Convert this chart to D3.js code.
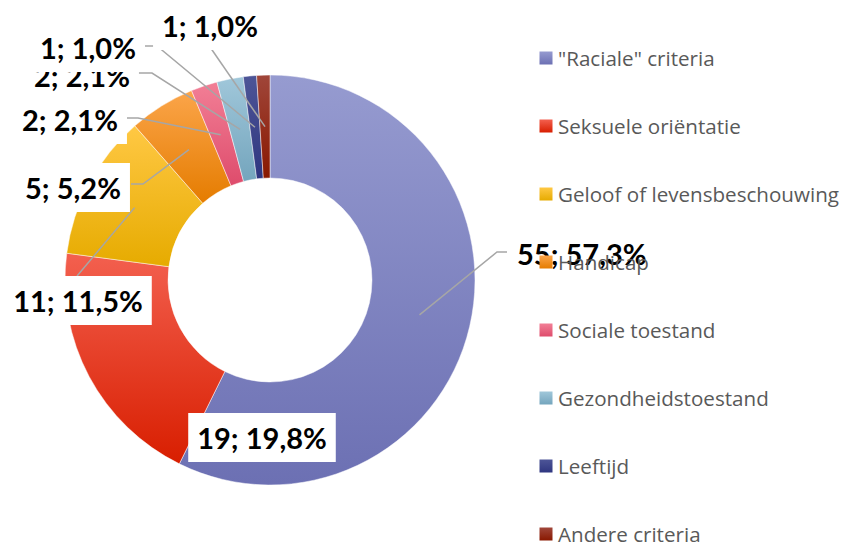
<!DOCTYPE html>
<html>
<head>
<meta charset="utf-8">
<script src="https://cdn.jsdelivr.net/npm/d3@7"></script>
<style>
  html, body { margin: 0; padding: 0; background: #fff; }
  svg { display: block; }
</style>
</head>
<body>
<svg id="chart" width="848" height="548"></svg>
<script>
// Discrimination criteria: counts per category
const categories = ['"Raciale" criteria', "Seksuele oriëntatie", "Geloof of levensbeschouwing",
  "Handicap", "Sociale toestand", "Gezondheidstoestand", "Leeftijd", "Andere criteria"];
const counts = [55, 19, 11, 5, 2, 2, 1, 1];

// Gradient colours per slice (top, bottom)
const colorsTop = ["#969bd0", "#f3604f", "#ffc844", "#fba54a", "#f27f96", "#a0c7da", "#4d5597", "#a0463a"];
const colorsBottom = ["#6c70b3", "#d81e00", "#e6ab00", "#e57c00", "#de4c6c", "#74a5bd", "#2f3680", "#891800"];

// Label placement: text centre and leader-line bend points (null = no leader)
const labelLayout = [
  { x: 581, y: 253, leader: [[497, 252], [507, 252]], anchor: "start", tx: 517 },
  { x: 262, y: 437, leader: null },
  { x: 78,  y: 300, leader: [[77, 276]] },
  { x: 73,  y: 187, leader: [[143, 184], [131, 184]] },
  { x: 70,  y: 119, leader: [[138, 118], [127, 118]] },
  { x: 82,  y: 75,  leader: [[152, 73], [138, 73]] },
  { x: 88,  y: 47,  leader: [[157, 46], [145, 46]] },
  { x: 210, y: 25,  leader: [[210, 47]] }
];

const svg = d3.select("#chart");
const cx = 270, cy = 280, rOuter = 205, rInner = 102;
const total = d3.sum(counts);

const data = categories.map((c, i) => ({ name: c, value: counts[i], i }));

// vertical gradients, lighter at the top of each slice
const defs = svg.append("defs");
data.forEach(d => {
  const g = defs.append("linearGradient")
    .attr("id", "grad" + d.i)
    .attr("x1", 0).attr("y1", 0).attr("x2", 0).attr("y2", 1);
  g.append("stop").attr("offset", "0%").attr("stop-color", colorsTop[d.i]);
  g.append("stop").attr("offset", "100%").attr("stop-color", colorsBottom[d.i]);
});

const pie = d3.pie().value(d => d.value).sort(null);
const arc = d3.arc().innerRadius(rInner).outerRadius(rOuter);
const arcs = pie(data);

const g = svg.append("g").attr("transform", `translate(${cx},${cy})`);
g.selectAll("path.slice")
  .data(arcs)
  .join("path")
  .attr("class", "slice")
  .attr("d", arc)
  .attr("fill", d => `url(#grad${d.data.i})`)
  .attr("stroke", "#ffffff")
  .attr("stroke-opacity", 0.6)
  .attr("stroke-width", 0.8);

// leader lines from slice centroids to the labels
const fmt = v => (v / total * 100).toFixed(1).replace(".", ",");
const labelFont = "Lato, 'Open Sans', sans-serif";

arcs.forEach((a, k) => {
  const lay = labelLayout[k];
  if (!lay.leader) return;
  const c = arc.centroid(a);
  const pts = [[cx + c[0], cy + c[1]], ...lay.leader];
  svg.append("path")
    .attr("d", d3.line()(pts))
    .attr("fill", "none")
    .attr("stroke", "#a6a6a6")
    .attr("stroke-width", 1.5);
});

// value labels on white boxes
arcs.forEach((a, k) => {
  const lay = labelLayout[k];
  const lg = svg.append("g");
  const rect = lg.append("rect").attr("fill", "#ffffff");
  const t = lg.append("text")
    .attr("x", lay.anchor === "start" ? lay.tx : lay.x)
    .attr("y", lay.y)
    .attr("text-anchor", lay.anchor || "middle")
    .attr("dominant-baseline", "central")
    .attr("font-family", labelFont)
    .attr("font-weight", 700)
    .attr("font-size", 29)
    .attr("fill", "#000")
    .text(`${a.data.value}; ${fmt(a.data.value)}%`);
  const bb = t.node().getBBox();
  rect.attr("x", bb.x - 9).attr("y", lay.y - 24)
      .attr("width", bb.width + 18).attr("height", 49);
});

// legend
const legend = svg.append("g");
const legendY = d3.scalePoint().domain(categories).range([58, 534]);
categories.forEach((c, i) => {
  const y = legendY(c);
  legend.append("rect")
    .attr("x", 539.5).attr("y", y - 6.5)
    .attr("width", 13).attr("height", 13)
    .attr("fill", `url(#grad${i})`);
  legend.append("text")
    .attr("x", 558).attr("y", y)
    .attr("dominant-baseline", "central")
    .attr("font-family", "'Open Sans', Lato, sans-serif")
    .attr("font-size", 20.6)
    .attr("fill", "#595959")
    .text(c);
});
</script>
</body>
</html>
